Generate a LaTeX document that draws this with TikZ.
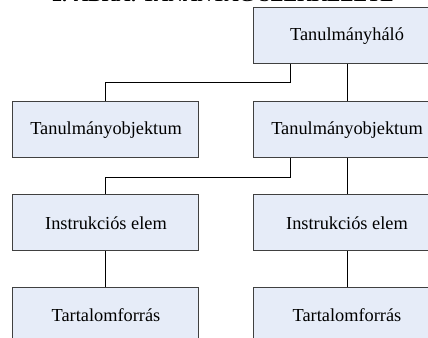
\documentclass[tikz,border=0pt]{standalone}
\usepackage{fontspec}
\setmainfont{Liberation Serif}
\usepackage{xcolor}
\usepackage{tikz}
\usetikzlibrary{calc, positioning}
\definecolor{boxfill}{RGB}{230,236,248}
\definecolor{boxline}{RGB}{64,64,64}
\tikzset{
    boxnode/.style = {draw=boxline, fill=boxfill, rectangle, inner sep = 0em, line width=0.6pt,
      minimum width=111.6pt, minimum height=33.6pt, node distance=0em, font=\fontsize{11}{13}\selectfont},
    textnode/.style  = {draw=none, fill=none, rectangle, inner sep = 0em, node distance=0em},
    connect/.style = {black, line width=0.6pt}
}
\begin{document}
\begin{tikzpicture}
    \useasboundingbox (-208.2pt,-181.2pt) rectangle (48.6pt,21.6pt);

    \node [textnode, anchor=base, font=\fontsize{12}{14}\selectfont\bfseries] (title) at (-74.4pt,20.4pt)
        {2. ÁBRA: TANANYAG SZERKEZETE};

    \node [name=halo, boxnode] {Tanulmányháló};

    \node [name=obj2, boxnode, below of = halo, yshift=-56.4pt] {Tanulmányobjektum};
    \node [name=obj1, boxnode, left of = obj2, xshift=-144.6pt] {Tanulmányobjektum};

    \node [name=elem2, boxnode, below of = obj2, yshift=-55.8pt] {Instrukciós elem};
    \node [name=elem1, boxnode, left of = elem2, xshift=-144.6pt] {Instrukciós elem};

    \node [name=forras2, boxnode, below of = elem2, yshift=-55.2pt] {Tartalomforrás};
    \node [name=forras1, boxnode, left of = forras2, xshift=-144.6pt] {Tartalomforrás};

    % szintek kozotti vonalak
    \draw [connect] ([xshift=-33.6pt]halo.south) -- ++(0,-10.8pt) -| (obj1.north);
    \draw [connect] (halo.south) -- (obj2.north);
    \draw [connect] ([xshift=-33.6pt]obj2.south) -- ++(0,-11.4pt) -| (elem1.north);
    \draw [connect] (obj2.south) -- (elem2.north);
    \draw [connect] (elem1.south) -- (forras1.north);
    \draw [connect] (elem2.south) -- (forras2.north);
\end{tikzpicture}
\end{document}
